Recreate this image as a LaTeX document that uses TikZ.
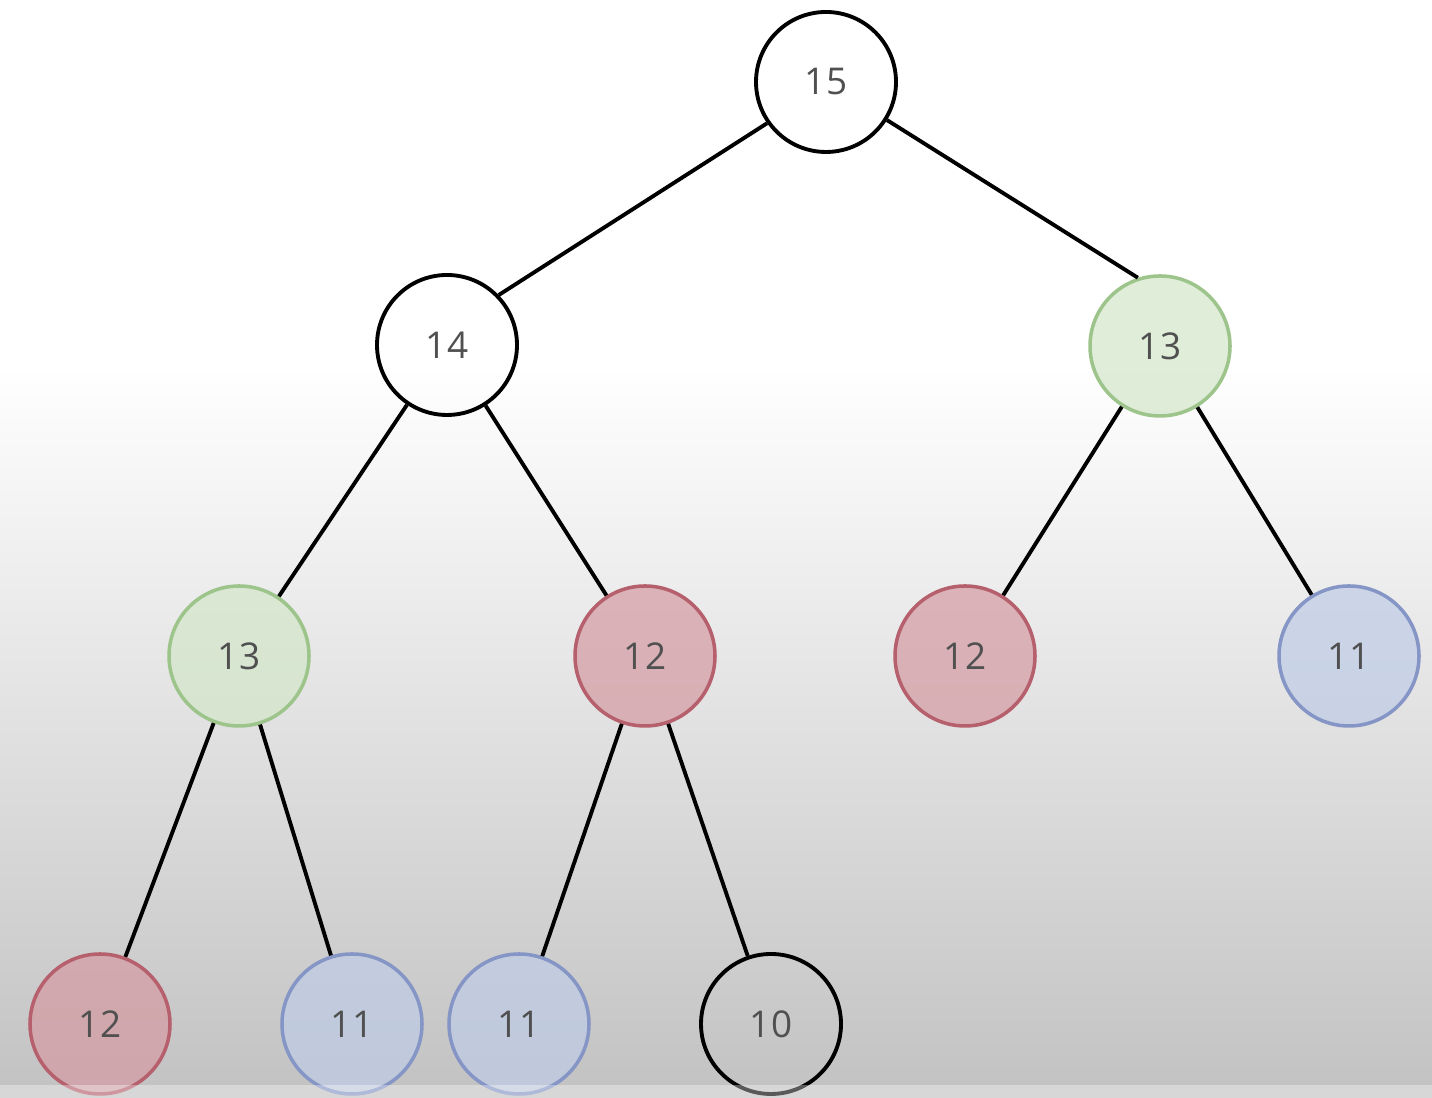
\documentclass[tikz,border=0pt]{standalone}
\usepackage{fontspec}
\setsansfont{Open Sans}
\usetikzlibrary{positioning}
\definecolor{bggray}{HTML}{C2C2C2}
\definecolor{greenfill}{HTML}{D2E6C9}
\definecolor{greenline}{HTML}{9DC48B}
\definecolor{redfill}{HTML}{D39AA1}
\definecolor{redline}{HTML}{B5606C}
\definecolor{bluefill}{HTML}{BECCE6}
\definecolor{blueline}{HTML}{8595C5}
\definecolor{numcol}{HTML}{505050}

\begin{document}
\begin{tikzpicture}[
    key/.style={circle, draw, line width=1pt, minimum size=1.4cm, inner sep=0pt,
                font=\sffamily\fontsize{10.5}{13}\selectfont, text=numcol},
    plain/.style={key, draw=black, line width=1.1pt},
    greenkey/.style={key, draw=greenline, fill=greenfill, fill opacity=0.7, text opacity=1},
    redkey/.style={key, draw=redline, fill=redfill, fill opacity=0.7, text opacity=1},
    bluekey/.style={key, draw=blueline, fill=bluefill, fill opacity=0.7, text opacity=1},
    link/.style={line width=1.1pt, black}]
  % background
  \fill[white] (0,0) rectangle (14.32,10.98);
  \shade[top color=white, bottom color=bggray] (0,0) rectangle (14.32,7.33);
  \useasboundingbox (0,0) rectangle (14.32,10.98);
  % nodes
  \node[plain] (n15) at (8.26,10.16) {15};
  \node[plain] (n14) at (4.47,7.53) {14};
  \node[greenkey] (n13r) at (11.60,7.52) {13};
  \node[greenkey] (n13l) at (2.39,4.42) {13};
  \node[redkey] (n12m) at (6.45,4.42) {12};
  \node[redkey] (n12r) at (9.65,4.42) {12};
  \node[bluekey] (n11r) at (13.49,4.42) {11};
  \node[redkey] (n12b) at (1.00,0.74) {12};
  \node[bluekey] (n11a) at (3.52,0.74) {11};
  \node[bluekey] (n11b) at (5.19,0.74) {11};
  \node[plain] (n10) at (7.71,0.74) {10};
  % edges
  \draw[link] (n15.215) -- (n14.44);
  \draw[link] (n15.-32) -- (n13r.108);
  \draw[link] (n14) -- (n13l);
  \draw[link] (n14) -- (n12m);
  \draw[link] (n13r) -- (n12r);
  \draw[link] (n13r) -- (n11r);
  \draw[link] (n13l) -- (n12b);
  \draw[link] (n13l) -- (n11a);
  \draw[link] (n12m) -- (n11b);
  \draw[link] (n12m) -- (n10);
  % bottom strip
  \fill[white, opacity=0.35] (0,0) rectangle (14.32,0.13);
\end{tikzpicture}
\end{document}
